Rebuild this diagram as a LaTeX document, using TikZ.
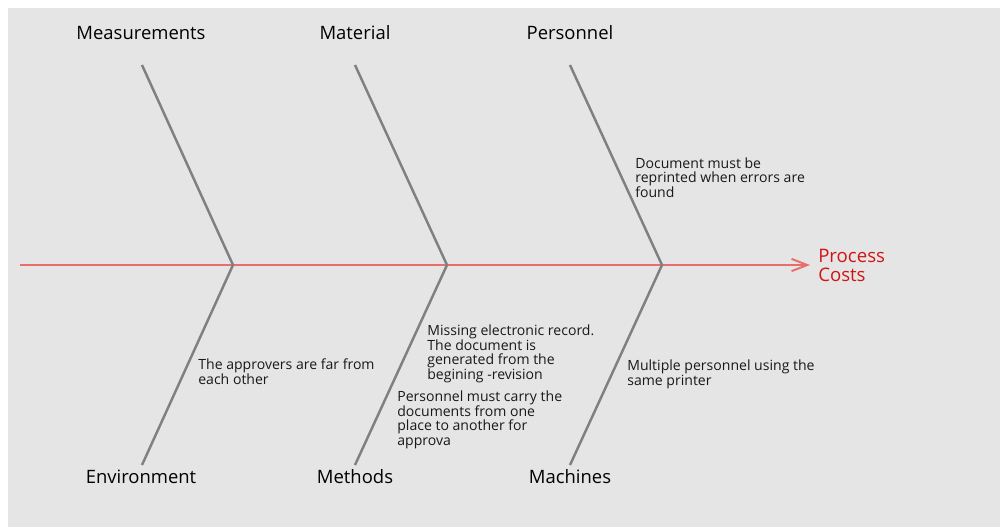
\documentclass[tikz,border=0pt]{standalone}
\usepackage{fontspec}
\setmainfont{Open Sans}
\usetikzlibrary{arrows.meta,positioning}
\definecolor{boneGray}{RGB}{128,128,128}
\definecolor{spineRed}{RGB}{232,110,110}
\definecolor{effectRed}{RGB}{210,20,20}
\definecolor{paper}{RGB}{229,229,229}
\tikzset{
    category/.style={font=\fontsize{10.5}{12}\selectfont, inner sep=0pt, anchor=base},
    cause/.style={font=\fontsize{8}{8.2}\selectfont, align=left, inner sep=0pt, anchor=base west, text=black!90},
    bone/.style={draw=boneGray, line width=1.4pt},
    spine/.style={draw=spineRed, line width=1.1pt, -{Straight Barb[length=9pt,width=7pt]}},
    effect/.style={font=\fontsize{10.6}{10.8}\selectfont, text=effectRed, align=left, anchor=west, inner xsep=4.5pt, inner ysep=0pt}
}

\begin{document}
\begin{tikzpicture}[x=0.02cm, y=-0.02cm]
    \useasboundingbox (0,0) rectangle (1000,529);
    \fill[white] (0,0) rectangle (1000,529);
    \fill[paper] (8,8) rectangle (1000,527);

    % spine and joints
    \coordinate (tail) at (20,265);
    \coordinate (j1) at (233,265);
    \coordinate (j2) at (447,265);
    \coordinate (j3) at (662,265);
    \node[effect] (head) at (810,265) {Process\\Costs};
    \draw[spine] (tail) -- (tail -| head.west);

    % bone ends
    \coordinate (t1) at (142,65);
    \coordinate (t2) at (355,65);
    \coordinate (t3) at (570,65);
    \coordinate (b1) at (142,465);
    \coordinate (b2) at (355,465);
    \coordinate (b3) at (570,465);

    % bones
    \draw[bone] (t1) -- (j1) -- (b1);
    \draw[bone] (t2) -- (j2) -- (b2);
    \draw[bone] (t3) -- (j3) -- (b3);

    % categories
    \node[category] (meas) at (141,39) {Measurements};
    \node[category] (mat) at (355,39) {Material};
    \node[category] (pers) at (570,39) {Personnel};
    \node[category] (env) at (141,483) {Environment};
    \node[category] (meth) at (355,483) {Methods};
    \node[category] (mach) at (570,483) {Machines};

    % causes (placed at the baseline of their last line)
    \node[cause] (reprint) at (635,197) {Document must be\\reprinted when errors are\\found};
    \node[cause] (far) at (198,384) {The approvers are far from\\each other};
    \node[cause] (missing) at (427,379) {Missing electronic record.\\The document is\\generated from the\\begining -revision};
    \node[cause] (carry) at (397,445) {Personnel must carry the\\documents from one\\place to another for\\approva};
    \node[cause] (printer) at (627,385) {Multiple personnel using the\\same printer};
\end{tikzpicture}
\end{document}
